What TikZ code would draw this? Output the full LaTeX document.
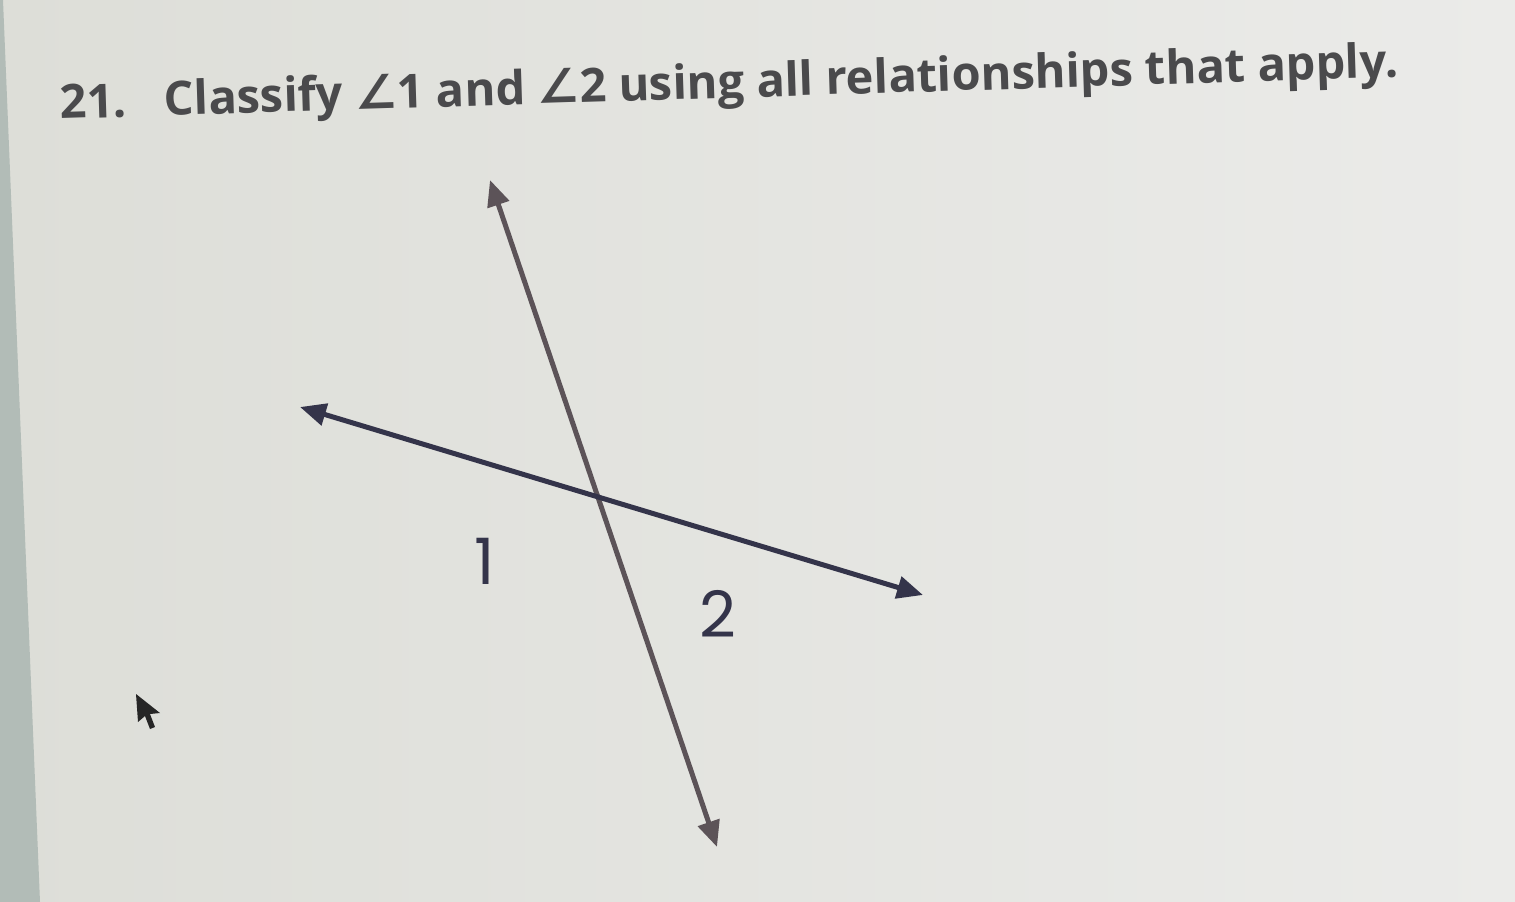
\documentclass[tikz,border=0pt]{standalone}
\usepackage{fontspec}
\setmainfont{Open Sans}
\newfontfamily\anglefont{DejaVu Sans}
\newfontfamily\numfont{Poppins}
\usetikzlibrary{arrows.meta}
\definecolor{paperl}{HTML}{DDDED8}
\definecolor{paperr}{HTML}{EBEBE9}
\definecolor{bezel}{HTML}{B2BCB7}
\definecolor{ink}{HTML}{34344A}
\definecolor{inkup}{HTML}{5C5358}
\definecolor{titleink}{HTML}{4A4A4C}

\begin{document}
\begin{tikzpicture}[x=1pt, y=-1pt, semithick]
  \tikzstyle{question} = [font=\bfseries\fontsize{47}{47}\selectfont, text=titleink,
    inner sep=0pt]
  \tikzstyle{anglenum} = [font=\numfont\fontsize{64}{64}\selectfont, text=ink,
    inner sep=0pt]
  \tikzstyle{line} = [draw, line width=5pt,
    {Triangle[length=26pt,width=22pt]}-{Triangle[length=26pt,width=22pt]}]

  % Paper and screen edge
  \useasboundingbox (0,0) rectangle (1515,902);
  \shade[left color=paperl, right color=paperr] (0,0) rectangle (1515,902);
  \fill[bezel] (0,0) -- (3,0) -- (40,902) -- (0,902) -- cycle;

  % Place nodes
  \node [question, anchor=base west, rotate=1.8] (title) at (60,119)
    {21.\hspace{0.8em}Classify {\anglefont∠}1 and {\anglefont∠}2 using all relationships that apply.};
  \coordinate (top) at (490,180);
  \coordinate (bottom) at (717,847);
  \coordinate (left) at (300,407);
  \coordinate (right) at (923,595);
  \node [anglenum] (one) at (485,561) {1};
  \node [anglenum] (two) at (718,614) {2};

  % Draw edges
  \path [line, inkup] (top) -- (bottom);
  \path [line, ink] (left) -- (right);

  % Mouse pointer
  \fill[black!85] (136,694) -- (160,713) -- (150,714) -- (155,727) -- (150,729)
    -- (145,716) -- (138,722) -- cycle;
\end{tikzpicture}
\end{document}
